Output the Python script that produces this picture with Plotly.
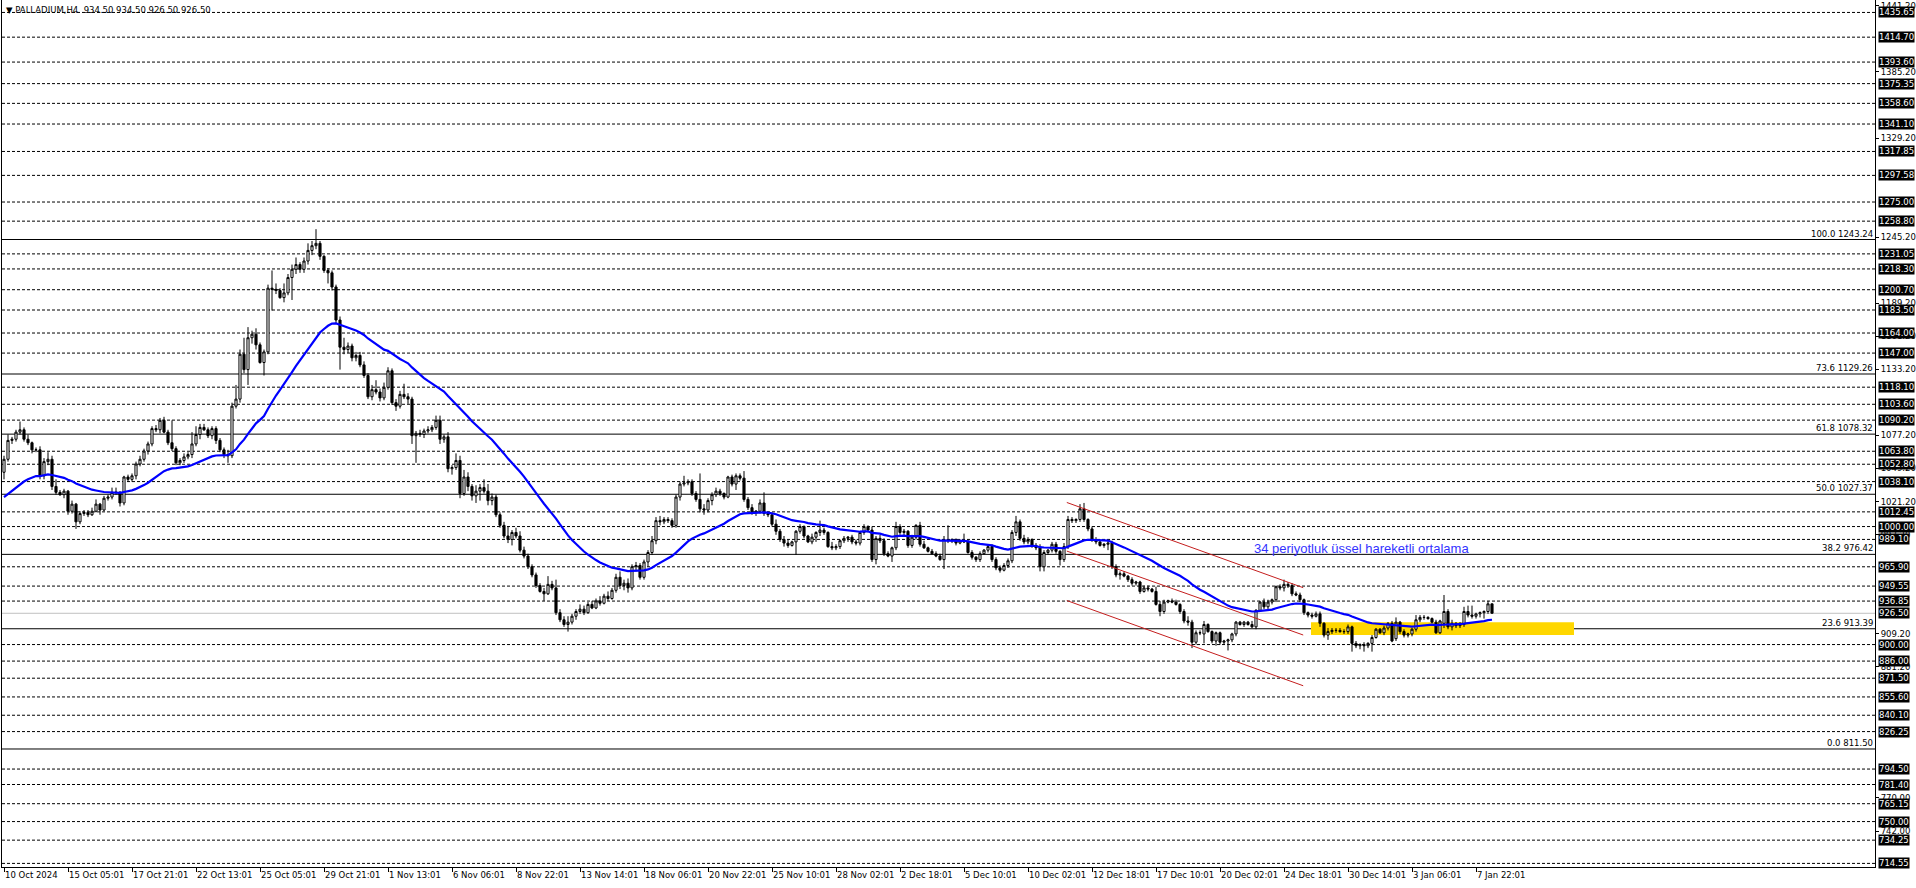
import plotly.graph_objects as go

# ---------------- data ----------------
opens = [
1046,1057,1073,1074,1080,1082,1074,1071,1065,1065,1043,1055,1057,1034,1029,1027,1030,1013,1019,1004,
1011,1012,1010,1013,1019,1014,1024,1025,1029,1029,1020,1042,1040,1043,1053,1057,1064,1070,1083,1082,
1090,1080,1071,1066,1054,1056,1059,1061,1070,1078,1084,1082,1077,1083,1073,1065,1061,1060,1102,1108,
1146,1133,1160,1163,1154,1139,1148,1202,1201,1200,1194,1198,1211,1218,1222,1218,1225,1234,1238,1240,
1229,1217,1215,1203,1175,1152,1150,1153,1143,1145,1137,1128,1110,1116,1114,1109,1118,1132,1105,1102,
1112,1110,1108,1077,1079,1078,1081,1082,1084,1090,1074,1076,1049,1050,1056,1028,1042,1034,1026,1030,
1033,1030,1022,1025,1010,1001,992,989,995,992,980,975,966,959,950,945,943,951,948,927,
921,917,919,924,928,930,927,934,931,937,935,941,939,946,957,950,952,948,966,967,
957,970,978,988,1005,1004,1006,1005,1001,1025,1036,1037,1038,1028,1023,1015,1014,1022,1027,1030,
1028,1025,1042,1036,1043,1041,1023,1016,1012,1013,1020,1011,1010,1002,996,989,986,984,987,996,
1000,992,987,991,995,997,995,983,982,983,988,990,991,987,986,995,1000,997,972,990,
988,977,975,982,1000,995,996,984,991,1001,985,982,979,977,975,972,989,988,989,986,
988,987,978,974,972,977,980,983,972,965,963,967,971,995,1004,990,987,989,984,982,
966,978,980,985,979,972,983,1006,1005,1006,1015,1006,998,989,987,984,985,986,966,959,
960,958,955,952,953,945,948,947,945,934,928,936,937,936,934,928,920,919,902,910,
909,917,911,903,910,902,903,904,909,919,917,919,917,915,929,936,932,936,938,949,
948,951,950,943,942,938,927,925,924,926,918,908,911,912,912,911,911,915,901,899,
900,899,901,906,913,910,914,918,905,919,911,908,909,913,921,923,923,922,919,910,
918,928,915,918,916,917,928,925,924,926,927,928,934.5]
highs = [
1060,1078,1076,1082,1089,1084,1078,1072,1067,1068,1058,1063,1060,1040,1031,1032,1031,1022,1020,1013,
1014,1014,1016,1023,1020,1026,1027,1033,1033,1030,1043,1044,1045,1055,1060,1066,1072,1085,1086,1092,
1093,1082,1090,1068,1058,1062,1063,1080,1085,1087,1087,1084,1085,1085,1075,1067,1065,1105,1120,1150,
1160,1169,1166,1168,1156,1150,1205,1217,1206,1202,1206,1214,1222,1228,1224,1228,1240,1242,1252,1242,
1230,1219,1217,1205,1178,1160,1156,1155,1148,1148,1140,1130,1120,1124,1117,1122,1135,1134,1108,1115,
1121,1113,1110,1081,1082,1083,1085,1086,1094,1094,1078,1080,1052,1062,1060,1048,1046,1036,1035,1036,
1040,1036,1028,1027,1012,1004,1000,997,999,996,983,977,968,961,952,948,958,954,955,930,
924,924,926,930,934,933,936,937,939,941,943,945,948,960,962,955,956,968,970,969,
972,980,992,1008,1009,1008,1008,1007,1027,1038,1043,1040,1040,1030,1045,1019,1024,1029,1033,1032,
1029,1043,1044,1045,1045,1047,1025,1019,1014,1023,1029,1013,1012,1006,998,992,989,988,997,1002,
1001,993,994,996,1005,999,996,987,985,989,992,992,993,989,996,1002,1001,1000,992,993,
990,979,983,1004,1002,998,997,993,1002,1004,988,983,981,979,977,992,1001,990,990,989,
994,989,980,975,979,981,985,985,974,967,969,973,997,1009,1006,993,991,990,986,985,
980,981,987,987,980,986,1009,1008,1007,1019,1020,1007,1000,991,988,986,988,988,968,962,
962,959,957,954,954,950,950,948,949,937,938,938,939,938,935,930,924,921,912,912,
920,918,912,911,911,904,905,910,920,920,920,920,920,930,937,939,938,939,950,951,
955,953,952,945,944,939,928,927,928,928,919,914,914,914,914,913,917,916,903,901,
902,902,908,914,914,916,919,920,923,920,913,910,914,925,925,925,924,923,921,921,
942,930,921,919,919,932,933,933,927,928,929,937,934.5]
lows = [
1040,1055,1070,1072,1078,1072,1069,1062,1063,1040,1040,1052,1031,1027,1026,1024,1010,1011,998,1002,
1009,1008,1009,1012,1010,1013,1022,1023,1027,1017,1018,1038,1038,1040,1051,1055,1061,1068,1080,1079,
1079,1069,1064,1052,1052,1054,1057,1058,1068,1074,1081,1075,1074,1070,1063,1058,1054,1058,1100,1105,
1130,1120,1155,1150,1138,1128,1146,1183,1197,1193,1190,1196,1192,1214,1215,1215,1222,1230,1235,1226,
1215,1206,1200,1172,1133,1146,1147,1140,1140,1135,1126,1108,1107,1112,1106,1107,1116,1103,1098,1100,
1108,1104,1070,1054,1076,1075,1079,1080,1082,1070,1071,1046,1044,1048,1024,1026,1030,1022,1020,1022,
1028,1018,1018,1008,999,990,986,984,990,978,973,964,957,948,944,937,942,946,925,919,
915,911,917,921,926,925,926,930,930,933,934,937,938,944,947,946,944,946,962,955,
955,966,976,985,1001,1002,1003,999,999,1022,1034,1035,1026,1021,1012,1010,1012,1018,1025,1026,
1023,1024,1034,1031,1039,1021,1014,1010,1009,1011,1009,1008,1000,993,987,983,982,983,976,994,
990,986,985,987,992,993,982,980,980,981,986,987,985,984,984,993,995,970,968,986,
975,974,970,980,993,992,982,982,989,983,981,978,976,974,971,964,986,986,984,985,
986,977,972,970,970,976,978,970,963,961,962,965,969,992,988,985,985,982,980,962,
962,976,978,977,967,970,981,1003,1003,1004,1004,996,987,985,983,982,980,964,957,955,
957,953,950,950,943,944,945,944,933,924,926,935,935,933,926,918,916,897,900,908,
901,910,901,899,900,900,895,902,907,916,915,916,914,913,928,930,930,934,936,946,
945,948,941,941,936,925,923,922,923,915,906,904,909,910,910,909,909,894,897,896,
894,897,894,905,909,908,912,902,903,909,906,906,907,911,919,921,921,918,909,909,
914,913,912,914,914,915,923,922,922,923,922,926,926.5]
closes = [
1057,1073,1074,1080,1082,1074,1071,1065,1065,1043,1055,1057,1034,1029,1027,1030,1013,1019,1004,1011,
1012,1010,1013,1019,1014,1024,1025,1029,1029,1020,1042,1040,1043,1053,1057,1064,1070,1083,1082,1090,
1080,1071,1066,1054,1056,1059,1061,1070,1078,1084,1082,1077,1083,1073,1065,1061,1060,1102,1108,1146,
1133,1160,1163,1154,1139,1148,1202,1201,1200,1194,1198,1211,1218,1222,1218,1225,1234,1238,1240,1229,
1217,1215,1203,1175,1152,1150,1153,1143,1145,1137,1128,1110,1116,1114,1109,1118,1132,1105,1102,1112,
1110,1108,1077,1079,1078,1081,1082,1084,1090,1074,1076,1049,1050,1056,1028,1042,1034,1026,1030,1033,
1030,1022,1025,1010,1001,992,989,995,992,980,975,966,959,950,945,943,951,948,927,921,
917,919,924,928,930,927,934,931,937,935,941,939,946,957,950,952,948,966,967,957,
970,978,988,1005,1004,1006,1005,1001,1025,1036,1037,1038,1028,1023,1015,1014,1022,1027,1030,1028,
1025,1042,1036,1043,1041,1023,1016,1012,1013,1020,1011,1010,1002,996,989,986,984,987,996,1000,
992,987,991,995,997,995,983,982,983,988,990,991,987,986,995,1000,997,972,990,988,
977,975,982,1000,995,996,984,991,1001,985,982,979,977,975,972,989,988,989,986,988,
987,978,974,972,977,980,983,972,965,963,967,971,995,1004,990,987,989,984,982,966,
978,980,985,979,972,983,1006,1005,1006,1015,1006,998,989,987,984,985,986,966,959,960,
958,955,952,953,945,948,947,945,934,928,936,937,936,934,928,920,919,902,910,910,
917,911,903,910,902,903,904,909,919,917,919,917,915,929,936,932,936,938,949,948,
951,950,943,942,938,927,925,924,926,918,908,911,912,912,911,911,915,901,899,900,
899,901,906,913,910,914,918,903,919,911,908,909,913,921,923,923,922,919,910,920,
928,915,918,916,917,928,925,924,926,927,928,934.5,926.5]

ema_period = 34
ema_seed = 1023.0          # value of the average just before the first visible bar

x_tick_bars = list(range(0, 369, 16))
x_tick_text = ["10 Oct 2024", "15 Oct 05:01", "17 Oct 21:01", "22 Oct 13:01", "25 Oct 05:01",
               "29 Oct 21:01", "1 Nov 13:01", "6 Nov 06:01", "8 Nov 22:01", "13 Nov 14:01",
               "18 Nov 06:01", "20 Nov 22:01", "25 Nov 10:01", "28 Nov 02:01", "2 Dec 18:01",
               "5 Dec 10:01", "10 Dec 02:01", "12 Dec 18:01", "17 Dec 10:01", "20 Dec 02:01",
               "24 Dec 18:01", "30 Dec 14:01", "3 Jan 06:01", "7 Jan 22:01"]

y_tick_vals = [1441.2, 1385.2, 1329.2, 1245.2, 1189.2, 1161.2, 1133.2, 1077.2, 1049.2,
               1021.2, 993.2, 909.2, 881.2, 770.0, 742.0]

dashed_levels = [1435.65, 1414.70, 1393.60, 1375.35, 1358.60, 1341.10, 1317.85, 1297.58, 1275.00,
                 1258.80, 1231.05, 1218.30, 1200.70, 1183.50, 1164.00, 1147.00, 1118.10, 1103.60,
                 1090.20, 1063.80, 1052.80, 1038.10, 1012.45, 1000.00, 989.10, 965.90, 949.55,
                 936.85, 900.00, 886.00, 871.50, 855.60, 840.10, 826.25, 794.50, 781.40, 765.15,
                 750.00, 734.25, 714.55]

fib_pcts = ["100.0", "73.6", "61.8", "50.0", "38.2", "23.6", "0.0"]
fib_prices = [1243.24, 1129.26, 1078.32, 1027.37, 976.42, 913.39, 811.50]

current_price = 926.50

channel_x = [265.7, 324.8]
channel_upper = [1020.4, 948.2]
channel_middle = [979.2, 908.1]
channel_lower = [937.3, 865.1]

zone_x = [326.75, 392.5]
zone_y = [908.1, 918.8]

note_text = "34 periyotluk üssel hareketli ortalama"
note_x = 312.0
note_y = 981.8

title_text = "▼ PALLADIUM,H4  934.50 934.50 926.50 926.50"

# ---------------- derived ----------------
bars = list(range(len(closes)))
alpha = 2.0 / (ema_period + 1)
ema = []
prev = ema_seed
for c in closes:
    prev = prev + alpha * (c - prev)
    ema.append(prev)

FONT = "DejaVu Sans"

fig = go.Figure()

fig.add_trace(go.Candlestick(
    x=bars, open=opens, high=highs, low=lows, close=closes,
    increasing=dict(line=dict(color="black", width=1), fillcolor="white"),
    decreasing=dict(line=dict(color="black", width=1), fillcolor="black"),
    whiskerwidth=0, showlegend=False, hoverinfo="skip"))

fig.add_trace(go.Scatter(x=bars, y=ema, mode="lines",
                         line=dict(color="#0000ff", width=2.2),
                         showlegend=False, hoverinfo="skip"))

for ys in (channel_upper, channel_middle, channel_lower):
    fig.add_trace(go.Scatter(x=channel_x, y=ys, mode="lines",
                             line=dict(color="#c41e1e", width=1),
                             showlegend=False, hoverinfo="skip"))

shapes = []
for lv in dashed_levels:
    shapes.append(dict(type="line", xref="paper", x0=0, x1=1, yref="y", y0=lv, y1=lv,
                       line=dict(color="black", width=1, dash="3px,2px"), layer="below"))
for fp in fib_prices:
    shapes.append(dict(type="line", xref="paper", x0=0, x1=1, yref="y", y0=fp, y1=fp,
                       line=dict(color="black", width=1), layer="below"))
shapes.append(dict(type="line", xref="paper", x0=0, x1=1, yref="y", y0=current_price,
                   y1=current_price, line=dict(color="#c0c0c0", width=1), layer="below"))
shapes.append(dict(type="rect", xref="x", yref="y", x0=zone_x[0], x1=zone_x[1],
                   y0=zone_y[0], y1=zone_y[1], fillcolor="#ffd700",
                   line=dict(width=0), layer="below"))

annotations = []
for lv in dashed_levels + [current_price]:
    annotations.append(dict(xref="paper", x=1, xanchor="left", xshift=3, yref="y", y=lv,
                            yanchor="middle", text=f"{lv:.2f}", showarrow=False,
                            bgcolor="black", borderpad=0,
                            font=dict(family=FONT, size=8.5, color="white")))
for pct, fp in zip(fib_pcts, fib_prices):
    annotations.append(dict(xref="paper", x=1, xanchor="right", xshift=-1, yref="y", y=fp,
                            yanchor="bottom", text=f"{pct} {fp:.2f}", showarrow=False,
                            borderpad=0, font=dict(family=FONT, size=8.5, color="black")))
annotations.append(dict(xref="x", x=note_x, xanchor="left", yref="y", y=note_y,
                        yanchor="middle", text=note_text, showarrow=False,
                        font=dict(family="Liberation Sans", size=13, color="#3333ff")))
annotations.append(dict(xref="paper", x=0, xanchor="left", xshift=3, yref="paper", y=1,
                        yanchor="middle", yshift=-10, text=title_text, showarrow=False,
                        borderpad=0, font=dict(family=FONT, size=8.5, color="black")))

fig.update_layout(
    template="none",
    width=1916, height=888, autosize=False,
    margin=dict(l=2, r=41, t=0, b=21, pad=0),
    paper_bgcolor="white", plot_bgcolor="white",
    showlegend=False, shapes=shapes, annotations=annotations,
    xaxis=dict(range=[-0.5, 467.75], tickmode="array", tickvals=x_tick_bars,
               ticktext=x_tick_text, ticks="outside", ticklen=4, tickcolor="black",
               tickangle=0, ticklabelposition="outside right", automargin=False,
               tickfont=dict(family=FONT, size=8.5, color="black"),
               showline=True, linecolor="black", linewidth=1, mirror=True,
               showgrid=False, zeroline=False, rangeslider=dict(visible=False),
               fixedrange=True),
    yaxis=dict(range=[711.5, 1446.2], side="right", tickmode="array",
               tickvals=y_tick_vals, ticktext=[f"{v:.2f}" for v in y_tick_vals],
               ticks="outside", ticklen=3, tickcolor="black", automargin=False,
               tickfont=dict(family=FONT, size=8.5, color="black"),
               showline=True, linecolor="black", linewidth=1, mirror=True,
               showgrid=False, zeroline=False, fixedrange=True),
    boxgap=0.25,
)

fig.write_html("out.html", config={"displayModeBar": False},
               post_script="document.body.style.margin='0';document.body.style.overflow='hidden';")
